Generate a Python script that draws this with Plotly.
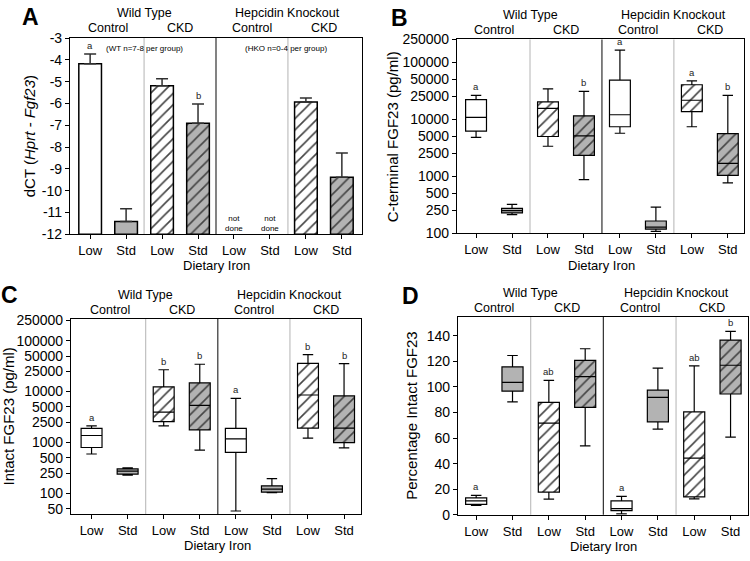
import math
import plotly.graph_objects as go

W, H = 750, 561
FONT = "Liberation Sans, Arial, sans-serif"

# ---------------- data ----------------
iron_labels = ["Low", "Std", "Low", "Std", "Low", "Std", "Low", "Std"]
fill_kind = ["white", "gray", "white", "gray", "white", "gray", "white", "gray"]
hatched = [False, False, True, True, False, False, True, True]

# Panel A: dCT (Hprt - Fgf23), mean and SE
a_mean = [-4.17, -11.41, -5.19, -6.90, None, None, -5.93, -9.38]
a_err = [0.44, 0.58, 0.33, 0.88, None, None, 0.18, 1.11]
a_letters = ["a", "", "", "b", "", "", "", ""]
a_ytickvals = [-3, -4, -5, -6, -7, -8, -9, -10, -11, -12]
a_yticktext = ["-3", "-4", "-5", "-6", "-7", "-8", "-9", "-10", "-11", "-12"]
A_BASE = -12

# Panel B: C-terminal FGF23 (pg/ml)
b_lo = [4760, 211, 3340, 867, 5640, 107, 7330, 762]
b_q1 = [6170, 226, 4950, 2310, 7330, 117, 13500, 1030]
b_med = [10700, 247, 15400, 5070, 11900, 127, 21400, 1670]
b_q3 = [22000, 272, 20000, 11400, 48100, 163, 40000, 5570]
b_hi = [26000, 318, 33800, 30700, 162000, 286, 46800, 26000]
b_letters = ["a", "", "", "b", "a", "", "a", "b"]
b_ytickvals = [100, 250, 500, 1000, 2500, 5000, 10000, 25000, 50000, 100000, 250000]

# Panel C: Intact FGF23 (pg/ml)
c_lo = [593, 228, 2120, 708, 44.8, 103, 1220, 782]
c_q1 = [796, 238, 2570, 1760, 638, 105, 1920, 991]
c_med = [1370, 272, 3940, 5360, 1180, 121, 8570, 1920]
c_q3 = [1890, 302, 12400, 14800, 1890, 140, 36000, 8200]
c_hi = [2120, 316, 26900, 34500, 7380, 195, 53500, 35600]
c_letters = ["a", "", "b", "b", "a", "", "b", "b"]
c_ytickvals = [50, 100, 250, 500, 1000, 2500, 5000, 10000, 25000, 50000, 100000, 250000]

# Panel D: Percentage intact FGF23
d_lo = [7.4, 88.4, 12.2, 53.9, 0.8, 67.1, 12.4, 60.8]
d_q1 = [8.1, 96.8, 17.8, 84.1, 3.3, 72.7, 14.0, 94.5]
d_med = [10.9, 103.6, 71.7, 108.1, 4.9, 91.9, 44.3, 117.0]
d_q3 = [13.2, 115.7, 87.9, 120.8, 10.9, 97.5, 80.5, 136.7]
d_hi = [15.2, 124.6, 105.1, 129.9, 14.4, 114.7, 116.5, 143.5]
d_letters = ["a", "", "ab", "", "a", "", "ab", "b"]
d_ytickvals = [0, 20, 40, 60, 80, 100, 120, 140]

genotype_labels = ["Wild Type", "Hepcidin Knockout"]
condition_labels = ["Control", "CKD", "Control", "CKD"]

# ---------------- style ----------------
GRAY = "#b3b3b3"
COLORS = {"white": "white", "gray": GRAY}
xs = list(range(8))


def px_x(p):
    return p / W


def px_y(p):
    return 1 - p / H


fig = go.Figure()

panels = {
    "A": dict(ax="", dom_x=(70, 362), dom_y=(31, 233), xr=[-0.56, 7.56]),
    "B": dict(ax="2", dom_x=(457, 744), dom_y=(32.3, 231.7), xr=[-0.53, 7.45]),
    "C": dict(ax="3", dom_x=(71, 361), dom_y=(320, 521), xr=[-0.57, 7.47]),
    "D": dict(ax="4", dom_x=(458, 748), dom_y=(317.7, 521.7), xr=[-0.5, 7.48]),
}

PATTERN = dict(size=8, solidity=0.2, fgcolor="black", fgopacity=1)

# ---- Panel A bars ----
fig.add_trace(go.Bar(
    x=xs,
    y=[(m - A_BASE) if m is not None else None for m in a_mean],
    base=A_BASE,
    width=0.63,
    marker=dict(
        color=[COLORS[k] for k in fill_kind],
        line=dict(color="black", width=1.5),
        pattern=dict(PATTERN, shape=["/" if h else "" for h in hatched]),
    ),
    xaxis="x", yaxis="y", showlegend=False, hoverinfo="skip",
))
ex = [i for i, m in enumerate(a_mean) if m is not None]
fig.add_trace(go.Scatter(
    x=ex, y=[a_mean[i] for i in ex], mode="markers",
    marker=dict(size=1, opacity=0),
    error_y=dict(type="data", symmetric=False, array=[a_err[i] for i in ex],
                 arrayminus=[0] * len(ex), color="#303030", thickness=1.5, width=6),
    xaxis="x", yaxis="y", showlegend=False, hoverinfo="skip",
))


def add_boxes(ax, lo, q1, med, q3, hi):
    xa, ya = "x" + ax, "y" + ax
    fig.add_trace(go.Bar(
        x=xs, y=[b - a for a, b in zip(q1, q3)], base=q1, width=0.58,
        marker=dict(
            color=[COLORS[k] for k in fill_kind],
            line=dict(width=0),
            pattern=dict(PATTERN, shape=["/" if h else "" for h in hatched]),
        ),
        xaxis=xa, yaxis=ya, showlegend=False, hoverinfo="skip",
    ))
    fig.add_trace(go.Box(
        x=xs, q1=q1, median=med, q3=q3, lowerfence=lo, upperfence=hi,
        width=0.58, whiskerwidth=0.5, fillcolor="rgba(0,0,0,0)",
        line=dict(color="black", width=1.2), boxpoints=False,
        xaxis=xa, yaxis=ya, showlegend=False, hoverinfo="skip",
    ))


add_boxes("2", b_lo, b_q1, b_med, b_q3, b_hi)
add_boxes("3", c_lo, c_q1, c_med, c_q3, c_hi)
add_boxes("4", d_lo, d_q1, d_med, d_q3, d_hi)

annotations = []
shapes = []
layout = {}

axis_common = dict(showline=True, linecolor="black", linewidth=1.2, mirror=True,
                   showgrid=False, zeroline=False, ticks="outside", ticklen=4,
                   tickcolor="black", tickwidth=1.2)

titles = {
    "A": "dCT (<i>Hprt - Fgf23</i>)",
    "B": "C-terminal FGF23 (pg/ml)",
    "C": "Intact FGF23 (pg/ml)",
    "D": "Percentage Intact FGF23",
}
title_x = {"A": 29, "B": 392, "C": 9, "D": 412}
letter_pos = {"A": (30, 9), "B": (399, 10), "C": (9, 295), "D": (410, 296)}
group_y = {"A": (5, 21), "B": (7, 23), "C": (295, 311), "D": (293, 309)}
xtitle_y = {"A": 265, "B": 265, "C": 553, "D": 554}


def ann(**kw):
    d = dict(showarrow=False, xanchor="center", yanchor="middle")
    d.update(kw)
    annotations.append(d)


yaxes = {
    "A": dict(range=[-12, -3], tickvals=a_ytickvals, ticktext=a_yticktext),
    "B": dict(type="log", range=[2, 5.398], tickvals=b_ytickvals,
              ticktext=[str(v) for v in b_ytickvals]),
    "C": dict(type="log", range=[1.59, 5.43], tickvals=c_ytickvals,
              ticktext=[str(v) for v in c_ytickvals]),
    "D": dict(range=[0, 155], tickvals=d_ytickvals,
              ticktext=[str(v) for v in d_ytickvals]),
}

for key, p in panels.items():
    ax = p["ax"]
    xname = "xaxis" + ax
    yname = "yaxis" + ax
    layout[xname] = dict(
        axis_common, domain=[px_x(p["dom_x"][0]), px_x(p["dom_x"][1])],
        range=p["xr"], tickvals=xs, ticktext=iron_labels,
        tickfont=dict(size=13, color="black", family=FONT),
        anchor="y" + ax,
    )
    layout[yname] = dict(
        axis_common, domain=[px_y(p["dom_y"][1]), px_y(p["dom_y"][0])],
        tickfont=dict(size=14, color="black", family=FONT),
        anchor="x" + ax, **yaxes[key],
    )
    xref, yref = "x" + ax, "y" + ax
    # dividers
    for xv, col in [(1.5, "#c0c0c0"), (3.5, "#303030"), (5.5, "#c0c0c0")]:
        shapes.append(dict(type="line", xref=xref, yref=yref + " domain",
                           x0=xv, x1=xv, y0=0, y1=1,
                           line=dict(color=col, width=1.2), layer="below"))
    # group labels
    for xv, txt in [(1.5, genotype_labels[0]), (5.5, genotype_labels[1])]:
        ann(x=xv, y=px_y(group_y[key][0]), xref=xref, yref="paper",
            text=txt, font=dict(size=12.5))
    for xv, txt in zip([0.5, 2.5, 4.5, 6.5], condition_labels):
        ann(x=xv, y=px_y(group_y[key][1]), xref=xref, yref="paper",
            text=txt, font=dict(size=12.5))
    # x title
    ann(x=3.5, y=px_y(xtitle_y[key]), xref=xref, yref="paper",
        text="Dietary Iron", font=dict(size=13))
    # y title
    mid = (p["dom_y"][0] + p["dom_y"][1]) / 2
    ann(x=px_x(title_x[key]), y=px_y(mid), xref="paper", yref="paper",
        text=titles[key], textangle=-90, font=dict(size=15))
    # panel letter
    lx, ly = letter_pos[key]
    ann(x=px_x(lx), y=px_y(ly), xref="paper", yref="paper",
        text="<b>%s</b>" % key, font=dict(size=23, color="black"))

# significance letters
LETTER_FONT = dict(size=9.5, color="#222222")
for i, t in enumerate(a_letters):
    if t:
        ann(x=i, y=a_mean[i] + a_err[i], xref="x", yref="y", text=t,
            yanchor="bottom", yshift=1, font=LETTER_FONT)
for ax, letters, hi, lg in [("2", b_letters, b_hi, True), ("3", c_letters, c_hi, True),
                            ("4", d_letters, d_hi, False)]:
    for i, t in enumerate(letters):
        if t:
            yv = math.log10(hi[i]) if lg else hi[i]
            ann(x=i, y=yv, xref="x" + ax, yref="y" + ax, text=t,
                yanchor="bottom", yshift=1, font=LETTER_FONT)

# panel A notes
ann(x=1.5, y=-3.49, xref="x", yref="y", text="(WT n=7-8 per group)", font=dict(size=8))
ann(x=5.45, y=-3.49, xref="x", yref="y", text="(HKO n=0-4 per group)", font=dict(size=8))
for i in [4, 5]:
    ann(x=i, y=-11.52, xref="x", yref="y", text="not<br>done", font=dict(size=8))

fig.update_layout(
    width=W, height=H, margin=dict(l=0, r=0, t=0, b=0),
    paper_bgcolor="white", plot_bgcolor="white",
    font=dict(family=FONT, color="black", size=13),
    barmode="overlay", boxmode="overlay", showlegend=False,
    annotations=annotations, shapes=shapes,
    **layout,
)

fig.write_html("out.html", config={"displayModeBar": False},
               post_script="document.body.style.margin='0';document.body.style.overflow='hidden';")
